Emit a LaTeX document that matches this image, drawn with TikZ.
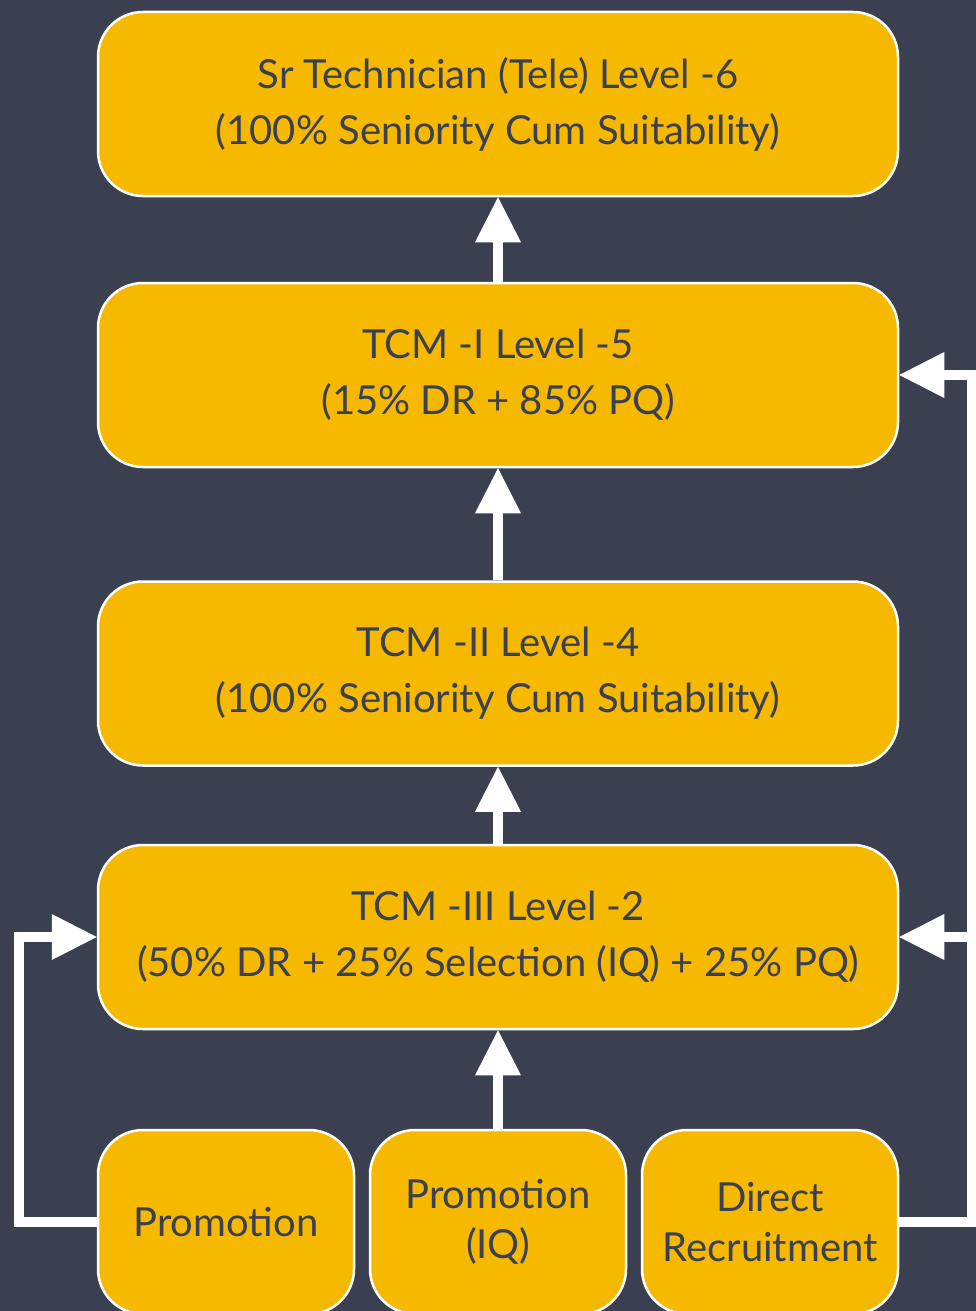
\documentclass[tikz,border=0pt]{standalone}
\usepackage{fontspec}
\setmainfont{Lato}
\usetikzlibrary{arrows.meta}
\definecolor{bg}{HTML}{3A4050}
\definecolor{gold}{HTML}{F6B900}
\definecolor{ink}{HTML}{3A4050}
\tikzset{
  level/.style={draw=white, line width=2.5pt, fill=gold, rounded corners=45pt,
    minimum width=800pt, minimum height=184pt, align=center, text=ink,
    font=\fontsize{40}{56}\selectfont, inner sep=0pt},
  source/.style={level, minimum width=256pt,
    font=\fontsize{40}{50}\selectfont},
  uparrow/.style={white, line width=10pt,
    -{Triangle[length=45pt,width=46pt,line width=0pt]}},
  feed/.style={uparrow, line join=miter},
}
\begin{document}
\begin{tikzpicture}[x=1pt,y=-1pt]
  \fill[bg] (0,0) rectangle (976,1311);
  \useasboundingbox (0,0) rectangle (976,1311);
  \clip (0,0) rectangle (976,1311);

  % career levels
  \node[level] (b1) at (498,104)   {Sr Technician (Tele) Level -6\\(100\% Seniority Cum Suitability)};
  \node[level] (b2) at (498,375)   {TCM -I Level -5\\(15\% DR + 85\% PQ)};
  \node[level] (b3) at (498,673.5) {TCM -II Level -4\\(100\% Seniority Cum Suitability)};
  \node[level] (b4) at (498,937)   {TCM -III Level -2\\(50\% DR + 25\% Selection (IQ) + 25\% PQ)};

  % entry routes
  \node[source] (p1) at (226,1222) {Promotion};
  \node[source] (p2) at (498,1222) {Promotion\\(IQ)};
  \node[source] (dr) at (770,1222) {Direct\\Recruitment};

  % promotions between levels
  \draw[uparrow] (b2.north) -- (b1.south);
  \draw[uparrow] (b3.north) -- (b2.south);
  \draw[uparrow] (b4.north) -- (b3.south);
  \draw[uparrow] (p2.north) -- (b4.south);

  % side feeds
  \draw[feed] (p1.west) -- ++(-78,0) |- (b4.west);
  \draw[feed] (dr.east) -- ++(73,0) coordinate (rc) |- (b2.east);
  \draw[feed] (rc |- b4.east) -- (b4.east);
\end{tikzpicture}
\end{document}
